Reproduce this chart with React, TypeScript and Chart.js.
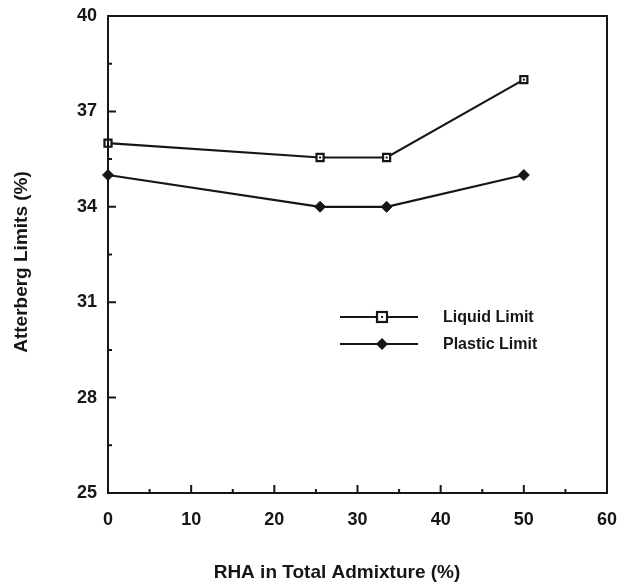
import React, { useEffect, useRef } from "react";
import { Chart, registerables } from "chart.js";

Chart.register(...registerables);

const rhaPercent = [0, 25.5, 33.5, 50];
const liquidLimit = [36, 35.55, 35.55, 38];
const plasticLimit = [35, 34, 34, 35];
const seriesNames = ["Liquid Limit", "Plastic Limit"];
const xTitle = "RHA in Total Admixture (%)";
const yTitle = "Atterberg Limits (%)";
const xMajorTicks = [10, 20, 30, 40, 50];
const xMinorTicks = [5, 15, 25, 35, 45, 55];
const yMajorTicks = [28, 31, 34, 37];
const yMinorTicks = [26.5, 29.5, 32.5, 35.5, 38.5];

const INK = "#161616";
const FONT = "'Liberation Sans', Arial, Helvetica, sans-serif";

const framePlugin = {
  id: "frameTicks",
  afterDatasetsDraw(chart: any) {
    const { ctx, chartArea, scales } = chart;
    const { left, right, top, bottom } = chartArea;
    ctx.save();
    ctx.strokeStyle = INK;
    ctx.lineWidth = 2;
    ctx.strokeRect(left, top, right - left, bottom - top);
    const xs = scales.x;
    const ys = scales.y;
    ctx.beginPath();
    xMajorTicks.forEach((v) => {
      const px = xs.getPixelForValue(v);
      ctx.moveTo(px, bottom);
      ctx.lineTo(px, bottom - 8);
    });
    xMinorTicks.forEach((v) => {
      const px = xs.getPixelForValue(v);
      ctx.moveTo(px, bottom);
      ctx.lineTo(px, bottom - 4);
    });
    yMajorTicks.forEach((v) => {
      const py = ys.getPixelForValue(v);
      ctx.moveTo(left, py);
      ctx.lineTo(left + 8, py);
    });
    yMinorTicks.forEach((v) => {
      const py = ys.getPixelForValue(v);
      ctx.moveTo(left, py);
      ctx.lineTo(left + 4, py);
    });
    ctx.stroke();
    ctx.restore();
  },
  afterDraw(chart: any) {
    const { ctx, chartArea } = chart;
    const { left, top } = chartArea;
    ctx.save();
    ctx.strokeStyle = INK;
    // inner dots of the square markers
    const meta = chart.getDatasetMeta(0);
    ctx.fillStyle = INK;
    meta.data.forEach((pt: any) => {
      ctx.fillRect(pt.x - 1, pt.y - 1, 2, 2);
    });

    // legend
    const lx0 = left + 232;
    const lx1 = left + 310;
    const mx = left + 274;
    const rows = [top + 301, top + 328];
    ctx.lineWidth = 2.2;
    rows.forEach((y, i) => {
      ctx.beginPath();
      ctx.moveTo(lx0, y);
      ctx.lineTo(lx1, y);
      ctx.stroke();
      if (i === 0) {
        ctx.fillStyle = "#fff";
        ctx.fillRect(mx - 5, y - 5, 10, 10);
        ctx.lineWidth = 2.2;
        ctx.strokeRect(mx - 5, y - 5, 10, 10);
        ctx.fillStyle = INK;
        ctx.fillRect(mx - 1, y - 1, 2, 2);
      } else {
        ctx.fillStyle = INK;
        ctx.beginPath();
        ctx.moveTo(mx, y - 6);
        ctx.lineTo(mx + 6, y);
        ctx.lineTo(mx, y + 6);
        ctx.lineTo(mx - 6, y);
        ctx.closePath();
        ctx.fill();
      }
      ctx.fillStyle = INK;
      ctx.font = `bold 16px ${FONT}`;
      ctx.textAlign = "left";
      ctx.textBaseline = "middle";
      ctx.fillText(seriesNames[i], left + 335, y + 1);
    });

    // axis titles
    ctx.fillStyle = INK;
    ctx.textAlign = "center";
    ctx.textBaseline = "middle";
    ctx.font = `bold 19px ${FONT}`;
    ctx.fillText(xTitle, left + 229, 573);
    ctx.save();
    ctx.translate(22, 262);
    ctx.rotate(-Math.PI / 2);
    ctx.fillText(yTitle, 0, 0);
    ctx.restore();
    ctx.restore();
  },
};

export default function App() {
  const ref = useRef<HTMLCanvasElement>(null);
  useEffect(() => {
    document.body.style.margin = "0";
    const canvas = ref.current!;
    const chart = new Chart(canvas, {
      type: "line",
      data: {
        datasets: [
          {
            label: seriesNames[0],
            data: rhaPercent.map((x, i) => ({ x, y: liquidLimit[i] })),
            borderColor: INK,
            borderWidth: 2.2,
            pointStyle: "rect",
            pointRadius: 5,
            pointBackgroundColor: "#fff",
            pointBorderColor: INK,
            pointBorderWidth: 2.2,
            tension: 0,
            clip: false,
          },
          {
            label: seriesNames[1],
            data: rhaPercent.map((x, i) => ({ x, y: plasticLimit[i] })),
            borderColor: INK,
            borderWidth: 2.2,
            pointStyle: "rectRot",
            pointRadius: 5.5,
            pointBackgroundColor: INK,
            pointBorderColor: INK,
            pointBorderWidth: 1,
            tension: 0,
            clip: false,
          },
        ],
      },
      options: {
        responsive: false,
        animation: false,
        layout: { padding: { left: 0, right: 14, top: 16, bottom: 0 } },
        plugins: { legend: { display: false }, tooltip: { enabled: false } },
        scales: {
          x: {
            type: "linear",
            min: 0,
            max: 60,
            grid: { display: false, drawTicks: false },
            border: { display: false },
            ticks: {
              stepSize: 10,
              padding: 16,
              color: INK,
              font: { family: FONT, size: 18, weight: "bold" },
              maxRotation: 0,
            },
            afterFit: (s: any) => {
              s.height = 92;
              s.paddingLeft = 0;
              s.paddingRight = 0;
            },
          },
          y: {
            type: "linear",
            min: 25,
            max: 40,
            grid: { display: false, drawTicks: false },
            border: { display: false },
            ticks: {
              stepSize: 3,
              padding: 11,
              color: INK,
              font: { family: FONT, size: 18, weight: "bold" },
            },
            afterFit: (s: any) => {
              s.width = 108;
              s.paddingTop = 0;
              s.paddingBottom = 0;
            },
          },
        },
      },
      plugins: [framePlugin],
    });
    return () => chart.destroy();
  }, []);
  return (
    <div style={{ position: "absolute", left: 0, top: 0, width: 621, height: 585, background: "#fff" }}>
      <canvas ref={ref} width={621} height={585} style={{ display: "block" }} />
    </div>
  );
}
